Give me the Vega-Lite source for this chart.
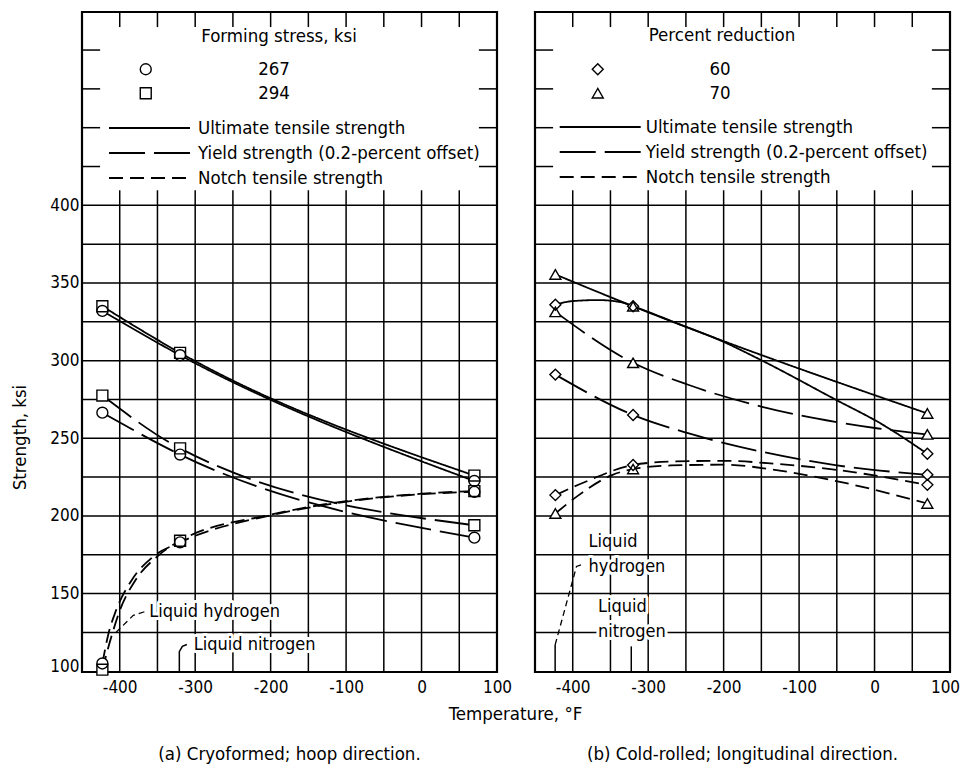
{
  "$schema": "https://vega.github.io/schema/vega-lite/v6.json",
  "background": "white",
  "padding": {"left": 8, "top": 10, "right": 2, "bottom": 4},
  "config": {
    "font": "DejaVu Sans Condensed",
    "view": {"stroke": "black", "strokeWidth": 2.2},
    "axis": {"grid": false, "ticks": false, "domain": false, "labelFlush": false, "labelFontSize": 17, "labelColor": "black", "titleColor": "black", "titleFontSize": 18.5, "titleFontWeight": "normal"},
    "legend": {"labelColor": "black", "titleColor": "black", "labelFontSize": 18.5, "titleFontSize": 18.5, "titleFontWeight": "normal", "padding": 0, "labelLimit": 400, "titleLimit": 400},
    "title": {"fontSize": 18.5, "fontWeight": "normal", "color": "black"}
  },
  "datasets": {
    "vgrid": [{"T": -400}, {"T": -350}, {"T": -300}, {"T": -250}, {"T": -200}, {"T": -150}, {"T": -100}, {"T": -50}, {"T": 0}, {"T": 50}],
    "hgrid": [{"S": 125}, {"S": 150}, {"S": 175}, {"S": 200}, {"S": 225}, {"S": 250}, {"S": 275}, {"S": 300}, {"S": 325}, {"S": 350}, {"S": 375}, {"S": 400}],
    "yticks": [{"S": 425}, {"S": 450}, {"S": 475}, {"S": 500}],
    "seriesA": [
      {"T": -423, "S": 335, "g": "294", "type": "Ultimate tensile strength", "m": 1},
      {"T": -320, "S": 305, "g": "294", "type": "Ultimate tensile strength", "m": 1},
      {"T": 70, "S": 226, "g": "294", "type": "Ultimate tensile strength", "m": 1},
      {"T": -423, "S": 332, "g": "267", "type": "Ultimate tensile strength", "m": 1},
      {"T": -320, "S": 303.5, "g": "267", "type": "Ultimate tensile strength", "m": 1},
      {"T": 70, "S": 222.5, "g": "267", "type": "Ultimate tensile strength", "m": 1},
      {"T": -423, "S": 277.5, "g": "294", "type": "Yield strength (0.2-percent offset)", "m": 1},
      {"T": -320, "S": 243.5, "g": "294", "type": "Yield strength (0.2-percent offset)", "m": 1},
      {"T": 70, "S": 194, "g": "294", "type": "Yield strength (0.2-percent offset)", "m": 1},
      {"T": -423, "S": 266.5, "g": "267", "type": "Yield strength (0.2-percent offset)", "m": 1},
      {"T": -320, "S": 239.5, "g": "267", "type": "Yield strength (0.2-percent offset)", "m": 1},
      {"T": 70, "S": 186, "g": "267", "type": "Yield strength (0.2-percent offset)", "m": 1},
      {"T": -423, "S": 101, "g": "294", "type": "Notch tensile strength", "m": 1},
      {"T": -410, "S": 124, "g": "294", "type": "Notch tensile strength", "m": 0},
      {"T": -400, "S": 139, "g": "294", "type": "Notch tensile strength", "m": 0},
      {"T": -380, "S": 158, "g": "294", "type": "Notch tensile strength", "m": 0},
      {"T": -350, "S": 174, "g": "294", "type": "Notch tensile strength", "m": 0},
      {"T": -320, "S": 184, "g": "294", "type": "Notch tensile strength", "m": 1},
      {"T": -200, "S": 200.8, "g": "294", "type": "Notch tensile strength", "m": 0},
      {"T": -132, "S": 207.2, "g": "294", "type": "Notch tensile strength", "m": 0},
      {"T": 0, "S": 214.3, "g": "294", "type": "Notch tensile strength", "m": 0},
      {"T": 70, "S": 216, "g": "294", "type": "Notch tensile strength", "m": 1},
      {"T": -423, "S": 105, "g": "267", "type": "Notch tensile strength", "m": 1},
      {"T": -415, "S": 124, "g": "267", "type": "Notch tensile strength", "m": 0},
      {"T": -405, "S": 139, "g": "267", "type": "Notch tensile strength", "m": 0},
      {"T": -385, "S": 158, "g": "267", "type": "Notch tensile strength", "m": 0},
      {"T": -355, "S": 174, "g": "267", "type": "Notch tensile strength", "m": 0},
      {"T": -320, "S": 183, "g": "267", "type": "Notch tensile strength", "m": 1},
      {"T": -200, "S": 200.4, "g": "267", "type": "Notch tensile strength", "m": 0},
      {"T": -132, "S": 206.8, "g": "267", "type": "Notch tensile strength", "m": 0},
      {"T": 0, "S": 214, "g": "267", "type": "Notch tensile strength", "m": 0},
      {"T": 70, "S": 215.5, "g": "267", "type": "Notch tensile strength", "m": 1}
    ],
    "seriesB": [
      {"T": -423, "S": 355.5, "g": "70", "type": "Ultimate tensile strength", "m": 1},
      {"T": -320, "S": 335, "g": "70", "type": "Ultimate tensile strength", "m": 1},
      {"T": 70, "S": 266, "g": "70", "type": "Ultimate tensile strength", "m": 1},
      {"T": -423, "S": 336, "g": "60", "type": "Ultimate tensile strength", "m": 1},
      {"T": -401, "S": 338.3, "g": "60", "type": "Ultimate tensile strength", "m": 0},
      {"T": -366, "S": 339, "g": "60", "type": "Ultimate tensile strength", "m": 0},
      {"T": -335, "S": 337.5, "g": "60", "type": "Ultimate tensile strength", "m": 0},
      {"T": -320, "S": 335, "g": "60", "type": "Ultimate tensile strength", "m": 1},
      {"T": -264, "S": 324.5, "g": "60", "type": "Ultimate tensile strength", "m": 0},
      {"T": -202, "S": 312.5, "g": "60", "type": "Ultimate tensile strength", "m": 0},
      {"T": -149, "S": 300, "g": "60", "type": "Ultimate tensile strength", "m": 0},
      {"T": -52, "S": 275, "g": "60", "type": "Ultimate tensile strength", "m": 0},
      {"T": 10, "S": 259, "g": "60", "type": "Ultimate tensile strength", "m": 0},
      {"T": 70, "S": 240, "g": "60", "type": "Ultimate tensile strength", "m": 1},
      {"T": -423, "S": 331.4, "g": "70", "type": "Yield strength (0.2-percent offset)", "m": 1},
      {"T": -320, "S": 298.6, "g": "70", "type": "Yield strength (0.2-percent offset)", "m": 1},
      {"T": -246, "S": 284.3, "g": "70", "type": "Yield strength (0.2-percent offset)", "m": 0},
      {"T": -149, "S": 270.3, "g": "70", "type": "Yield strength (0.2-percent offset)", "m": 0},
      {"T": -52, "S": 260.6, "g": "70", "type": "Yield strength (0.2-percent offset)", "m": 0},
      {"T": 5, "S": 256.3, "g": "70", "type": "Yield strength (0.2-percent offset)", "m": 0},
      {"T": 70, "S": 252.5, "g": "70", "type": "Yield strength (0.2-percent offset)", "m": 1},
      {"T": -423, "S": 291, "g": "60", "type": "Yield strength (0.2-percent offset)", "m": 1},
      {"T": -320, "S": 265, "g": "60", "type": "Yield strength (0.2-percent offset)", "m": 1},
      {"T": -246, "S": 253.1, "g": "60", "type": "Yield strength (0.2-percent offset)", "m": 0},
      {"T": -149, "S": 241.3, "g": "60", "type": "Yield strength (0.2-percent offset)", "m": 0},
      {"T": -52, "S": 232.7, "g": "60", "type": "Yield strength (0.2-percent offset)", "m": 0},
      {"T": 70, "S": 226.5, "g": "60", "type": "Yield strength (0.2-percent offset)", "m": 1},
      {"T": -423, "S": 213.4, "g": "60", "type": "Notch tensile strength", "m": 1},
      {"T": -383, "S": 222, "g": "60", "type": "Notch tensile strength", "m": 0},
      {"T": -320, "S": 232.8, "g": "60", "type": "Notch tensile strength", "m": 1},
      {"T": -270, "S": 235, "g": "60", "type": "Notch tensile strength", "m": 0},
      {"T": -200, "S": 235.5, "g": "60", "type": "Notch tensile strength", "m": 0},
      {"T": -130, "S": 233.5, "g": "60", "type": "Notch tensile strength", "m": 0},
      {"T": -56, "S": 230, "g": "60", "type": "Notch tensile strength", "m": 0},
      {"T": 70, "S": 220, "g": "60", "type": "Notch tensile strength", "m": 1},
      {"T": -423, "S": 201.6, "g": "70", "type": "Notch tensile strength", "m": 1},
      {"T": -392, "S": 213.4, "g": "70", "type": "Notch tensile strength", "m": 0},
      {"T": -348, "S": 226.3, "g": "70", "type": "Notch tensile strength", "m": 0},
      {"T": -320, "S": 230.2, "g": "70", "type": "Notch tensile strength", "m": 1},
      {"T": -270, "S": 232.5, "g": "70", "type": "Notch tensile strength", "m": 0},
      {"T": -200, "S": 233, "g": "70", "type": "Notch tensile strength", "m": 0},
      {"T": -130, "S": 229.5, "g": "70", "type": "Notch tensile strength", "m": 0},
      {"T": -56, "S": 223, "g": "70", "type": "Notch tensile strength", "m": 0},
      {"T": 70, "S": 208, "g": "70", "type": "Notch tensile strength", "m": 1}
    ],
    "notesA": [
      {"T": -361, "S": 138.4, "label": "Liquid hydrogen"},
      {"T": -302, "S": 117.2, "label": "Liquid nitrogen"}
    ],
    "notesB": [
      {"T": -379, "S": 183.4, "label": "Liquid"},
      {"T": -379, "S": 167.3, "label": "hydrogen"},
      {"T": -366.5, "S": 141.6, "label": "Liquid"},
      {"T": -366.5, "S": 125.5, "label": "nitrogen"}
    ],
    "leadA": [
      {"id": "a-h2", "o": 1, "T": -405, "S": 125},
      {"id": "a-h2", "o": 2, "T": -382, "S": 136},
      {"id": "a-h2", "o": 3, "T": -366, "S": 138.5},
      {"id": "a-n2", "o": 1, "T": -321, "S": 99.5},
      {"id": "a-n2", "o": 2, "T": -321, "S": 112.6},
      {"id": "a-n2", "o": 3, "T": -317, "S": 116},
      {"id": "a-n2", "o": 4, "T": -311, "S": 117.2}
    ],
    "leadB": [
      {"id": "b-h2-stem", "o": 1, "T": -423.3, "S": 99.5},
      {"id": "b-h2-stem", "o": 2, "T": -423.3, "S": 117},
      {"id": "b-h2", "o": 1, "T": -423.3, "S": 117},
      {"id": "b-h2", "o": 2, "T": -397.5, "S": 163},
      {"id": "b-h2", "o": 3, "T": -395, "S": 167.5},
      {"id": "b-h2", "o": 4, "T": -389, "S": 168.5},
      {"id": "b-n2", "o": 1, "T": -322.4, "S": 99.5},
      {"id": "b-n2", "o": 2, "T": -322.4, "S": 116}
    ]
  },
  "spacing": 38,
  "bounds": "flush",
  "resolve": {
    "scale": {"x": "independent", "y": "independent", "shape": "independent", "strokeDash": "independent"},
    "legend": {"shape": "independent", "strokeDash": "independent"}
  },
  "hconcat": [
    {
      "width": 415,
      "height": 660,
      "title": {"text": "(a) Cryoformed; hoop direction.", "orient": "bottom", "frame": "group", "anchor": "middle", "offset": 22},
      "resolve": {"scale": {"shape": "independent"}, "legend": {"shape": "independent"}},
      "layer": [
        {
          "data": {"name": "vgrid"},
          "mark": {"type": "rule", "stroke": "black", "strokeWidth": 1.5},
          "encoding": {
            "x": {"field": "T", "type": "quantitative", "scale": {"domain": [-450, 100], "nice": false, "zero": false},
              "axis": {"values": [-400, -300, -200, -100, 0, 100], "labelExpr": "'' + datum.value", "labelPadding": 7, "title": "Temperature, °F", "titleX": 433, "titleY": 41, "titleBaseline": "middle", "titleAlign": "center"}},
            "y": {"datum": 99.5, "type": "quantitative", "scale": {"domain": [99.5, 524.5], "nice": false, "zero": false}},
            "y2": {"datum": 400}
          }
        },
        {
          "data": {"name": "hgrid"},
          "mark": {"type": "rule", "stroke": "black", "strokeWidth": 1.5},
          "encoding": {
            "y": {"field": "S", "type": "quantitative", "scale": {"domain": [99.5, 524.5], "nice": false, "zero": false},
              "axis": {"values": [100, 150, 200, 250, 300, 350, 400], "labelPadding": 3, "title": "Strength, ksi", "titleX": -63, "titleY": 425, "titleBaseline": "middle", "titleAngle": 270, "titleAlign": "center",
                "labelBaseline": {"condition": {"test": "datum.value == 100", "value": "alphabetic"}, "value": "middle"}}},
            "x": {"datum": -450, "type": "quantitative", "scale": {"domain": [-450, 100], "nice": false, "zero": false}},
            "x2": {"datum": 100}
          }
        },
        {
          "data": {"name": "vgrid"},
          "mark": {"type": "rule", "stroke": "black", "strokeWidth": 1.5},
          "encoding": {
            "x": {"field": "T", "type": "quantitative"},
            "y": {"datum": 524.5, "type": "quantitative"},
            "y2": {"datum": 514.8}
          }
        },
        {
          "data": {"name": "vgrid"},
          "mark": {"type": "rule", "stroke": "black", "strokeWidth": 1.5},
          "encoding": {
            "x": {"field": "T", "type": "quantitative"},
            "y": {"datum": 400, "type": "quantitative"},
            "y2": {"datum": 409.7}
          }
        },
        {
          "data": {"name": "yticks"},
          "mark": {"type": "rule", "stroke": "black", "strokeWidth": 1.5},
          "encoding": {
            "y": {"field": "S", "type": "quantitative"},
            "x": {"datum": -450, "type": "quantitative"},
            "x2": {"datum": -426}
          }
        },
        {
          "data": {"name": "yticks"},
          "mark": {"type": "rule", "stroke": "black", "strokeWidth": 1.5},
          "encoding": {
            "y": {"field": "S", "type": "quantitative"},
            "x": {"datum": 100, "type": "quantitative"},
            "x2": {"datum": 76}
          }
        },
        {
          "data": {"name": "notesA"},
          "mark": {"type": "text", "align": "left", "baseline": "middle", "fontSize": 18, "fill": "white", "stroke": "white", "strokeWidth": 6, "strokeJoin": "round"},
          "encoding": {
            "x": {"field": "T", "type": "quantitative"},
            "y": {"field": "S", "type": "quantitative"},
            "text": {"field": "label"}
          }
        },
        {
          "data": {"name": "notesA"},
          "mark": {"type": "text", "align": "left", "baseline": "middle", "fontSize": 18, "fill": "black"},
          "encoding": {
            "x": {"field": "T", "type": "quantitative"},
            "y": {"field": "S", "type": "quantitative"},
            "text": {"field": "label"}
          }
        },
        {
          "data": {"name": "leadA"},
          "transform": [{"filter": "datum.id == 'a-h2'"}],
          "mark": {"type": "line", "stroke": "black", "strokeWidth": 1.3, "strokeDash": [6, 4]},
          "encoding": {
            "x": {"field": "T", "type": "quantitative"},
            "y": {"field": "S", "type": "quantitative"},
            "order": {"field": "o"},
            "detail": {"field": "id"}
          }
        },
        {
          "data": {"name": "leadA"},
          "transform": [{"filter": "datum.id == 'a-n2'"}],
          "mark": {"type": "line", "stroke": "black", "strokeWidth": 1.5},
          "encoding": {
            "x": {"field": "T", "type": "quantitative"},
            "y": {"field": "S", "type": "quantitative"},
            "order": {"field": "o"},
            "detail": {"field": "id"}
          }
        },
        {
          "data": {"name": "seriesA"},
          "mark": {"type": "line", "interpolate": "monotone", "stroke": "black", "strokeWidth": 1.8},
          "encoding": {
            "x": {"field": "T", "type": "quantitative"},
            "y": {"field": "S", "type": "quantitative"},
            "detail": {"field": "g"},
            "strokeDash": {"field": "type", "type": "nominal",
              "scale": {"domain": ["Ultimate tensile strength", "Yield strength (0.2-percent offset)", "Notch tensile strength"], "range": [[1, 0], [36, 9], [14, 7]]},
              "legend": {"title": "Forming stress, ksi", "orient": "none", "legendX": -4, "legendY": 15, "titleAnchor": "middle", "titlePadding": 70,
                "symbolType": "stroke", "symbolSize": 6561, "symbolStrokeWidth": 1.8, "symbolStrokeColor": "black", "symbolOffset": 30, "labelOffset": 7, "clipHeight": 25, "rowPadding": 0}}
          }
        },
        {
          "data": {"name": "seriesA"},
          "transform": [{"filter": "datum.m == 1"}],
          "mark": {"type": "point", "filled": true, "color": "white", "strokeWidth": 0, "size": 120, "opacity": 1},
          "encoding": {
            "x": {"field": "T", "type": "quantitative"},
            "y": {"field": "S", "type": "quantitative"},
            "shape": {"field": "g", "type": "nominal", "scale": {"domain": ["267", "294"], "range": ["circle", "square"]}, "legend": null}
          }
        },
        {
          "data": {"name": "seriesA"},
          "transform": [{"filter": "datum.m == 1"}],
          "mark": {"type": "point", "filled": false, "color": "black", "strokeWidth": 1.4, "size": 120, "opacity": 1},
          "encoding": {
            "x": {"field": "T", "type": "quantitative"},
            "y": {"field": "S", "type": "quantitative"},
            "shape": {"field": "g", "type": "nominal",
              "scale": {"domain": ["267", "294"], "range": ["circle", "square"]},
              "legend": {"title": null, "orient": "none", "legendX": 54.5, "legendY": 48, "labelAlign": "center", "labelOffset": 119, "rowPadding": 5,
                "symbolSize": 120, "symbolStrokeWidth": 1.4, "symbolStrokeColor": "black", "symbolOpacity": 1}}
          }
        }
      ]
    },
    {
      "width": 415,
      "height": 660,
      "title": {"text": "(b) Cold-rolled; longitudinal direction.", "orient": "bottom", "frame": "group", "anchor": "middle", "offset": 50},
      "resolve": {"scale": {"shape": "independent"}, "legend": {"shape": "independent"}},
      "layer": [
        {
          "data": {"name": "vgrid"},
          "mark": {"type": "rule", "stroke": "black", "strokeWidth": 1.5},
          "encoding": {
            "x": {"field": "T", "type": "quantitative", "scale": {"domain": [-450, 100], "nice": false, "zero": false},
              "axis": {"values": [-400, -300, -200, -100, 0, 100], "labelExpr": "'' + datum.value", "labelPadding": 7, "title": null,
                "labelOffset": {"condition": {"test": "datum.value == 100", "value": -5}, "value": 0}}},
            "y": {"datum": 99.5, "type": "quantitative", "scale": {"domain": [99.5, 524.5], "nice": false, "zero": false}, "axis": null},
            "y2": {"datum": 400}
          }
        },
        {
          "data": {"name": "hgrid"},
          "mark": {"type": "rule", "stroke": "black", "strokeWidth": 1.5},
          "encoding": {
            "y": {"field": "S", "type": "quantitative", "axis": null},
            "x": {"datum": -450, "type": "quantitative"},
            "x2": {"datum": 100}
          }
        },
        {
          "data": {"name": "vgrid"},
          "mark": {"type": "rule", "stroke": "black", "strokeWidth": 1.5},
          "encoding": {
            "x": {"field": "T", "type": "quantitative"},
            "y": {"datum": 524.5, "type": "quantitative", "axis": null},
            "y2": {"datum": 514.8}
          }
        },
        {
          "data": {"name": "vgrid"},
          "mark": {"type": "rule", "stroke": "black", "strokeWidth": 1.5},
          "encoding": {
            "x": {"field": "T", "type": "quantitative"},
            "y": {"datum": 400, "type": "quantitative", "axis": null},
            "y2": {"datum": 409.7}
          }
        },
        {
          "data": {"name": "yticks"},
          "mark": {"type": "rule", "stroke": "black", "strokeWidth": 1.5},
          "encoding": {
            "y": {"field": "S", "type": "quantitative", "axis": null},
            "x": {"datum": -450, "type": "quantitative"},
            "x2": {"datum": -426}
          }
        },
        {
          "data": {"name": "yticks"},
          "mark": {"type": "rule", "stroke": "black", "strokeWidth": 1.5},
          "encoding": {
            "y": {"field": "S", "type": "quantitative", "axis": null},
            "x": {"datum": 100, "type": "quantitative"},
            "x2": {"datum": 76}
          }
        },
        {
          "data": {"name": "notesB"},
          "mark": {"type": "text", "align": "left", "baseline": "middle", "fontSize": 18, "fill": "white", "stroke": "white", "strokeWidth": 6, "strokeJoin": "round"},
          "encoding": {
            "x": {"field": "T", "type": "quantitative"},
            "y": {"field": "S", "type": "quantitative", "axis": null},
            "text": {"field": "label"}
          }
        },
        {
          "data": {"name": "notesB"},
          "mark": {"type": "text", "align": "left", "baseline": "middle", "fontSize": 18, "fill": "black"},
          "encoding": {
            "x": {"field": "T", "type": "quantitative"},
            "y": {"field": "S", "type": "quantitative", "axis": null},
            "text": {"field": "label"}
          }
        },
        {
          "data": {"name": "leadB"},
          "transform": [{"filter": "datum.id == 'b-h2'"}],
          "mark": {"type": "line", "stroke": "black", "strokeWidth": 1.3, "strokeDash": [6, 4]},
          "encoding": {
            "x": {"field": "T", "type": "quantitative"},
            "y": {"field": "S", "type": "quantitative", "axis": null},
            "order": {"field": "o"},
            "detail": {"field": "id"}
          }
        },
        {
          "data": {"name": "leadB"},
          "transform": [{"filter": "datum.id != 'b-h2'"}],
          "mark": {"type": "line", "stroke": "black", "strokeWidth": 1.5},
          "encoding": {
            "x": {"field": "T", "type": "quantitative"},
            "y": {"field": "S", "type": "quantitative", "axis": null},
            "order": {"field": "o"},
            "detail": {"field": "id"}
          }
        },
        {
          "data": {"name": "seriesB"},
          "mark": {"type": "line", "interpolate": "monotone", "stroke": "black", "strokeWidth": 1.8},
          "encoding": {
            "x": {"field": "T", "type": "quantitative"},
            "y": {"field": "S", "type": "quantitative", "axis": null},
            "detail": {"field": "g"},
            "strokeDash": {"field": "type", "type": "nominal",
              "scale": {"domain": ["Ultimate tensile strength", "Yield strength (0.2-percent offset)", "Notch tensile strength"], "range": [[1, 0], [36, 9], [14, 7]]},
              "legend": {"title": "Percent reduction", "orient": "none", "legendX": -19, "legendY": 14, "titleAnchor": "middle", "titlePadding": 70,
                "symbolType": "stroke", "symbolSize": 6561, "symbolStrokeWidth": 1.8, "symbolStrokeColor": "black", "symbolOffset": 42.7, "labelOffset": 4, "clipHeight": 25, "rowPadding": 0}}
          }
        },
        {
          "data": {"name": "seriesB"},
          "transform": [{"filter": "datum.m == 1"}],
          "mark": {"type": "point", "filled": true, "color": "white", "strokeWidth": 0, "size": 120, "opacity": 1},
          "encoding": {
            "x": {"field": "T", "type": "quantitative"},
            "y": {"field": "S", "type": "quantitative", "axis": null},
            "shape": {"field": "g", "type": "nominal", "scale": {"domain": ["60", "70"], "range": ["diamond", "triangle-up"]}, "legend": null}
          }
        },
        {
          "data": {"name": "seriesB"},
          "transform": [{"filter": "datum.m == 1"}],
          "mark": {"type": "point", "filled": false, "color": "black", "strokeWidth": 1.4, "size": 120, "opacity": 1},
          "encoding": {
            "x": {"field": "T", "type": "quantitative"},
            "y": {"field": "S", "type": "quantitative", "axis": null},
            "shape": {"field": "g", "type": "nominal",
              "scale": {"domain": ["60", "70"], "range": ["diamond", "triangle-up"]},
              "legend": {"title": null, "orient": "none", "legendX": 53.5, "legendY": 48, "labelAlign": "center", "labelOffset": 113, "rowPadding": 5,
                "symbolSize": 120, "symbolStrokeWidth": 1.4, "symbolStrokeColor": "black", "symbolOpacity": 1}}
          }
        }
      ]
    }
  ]
}
